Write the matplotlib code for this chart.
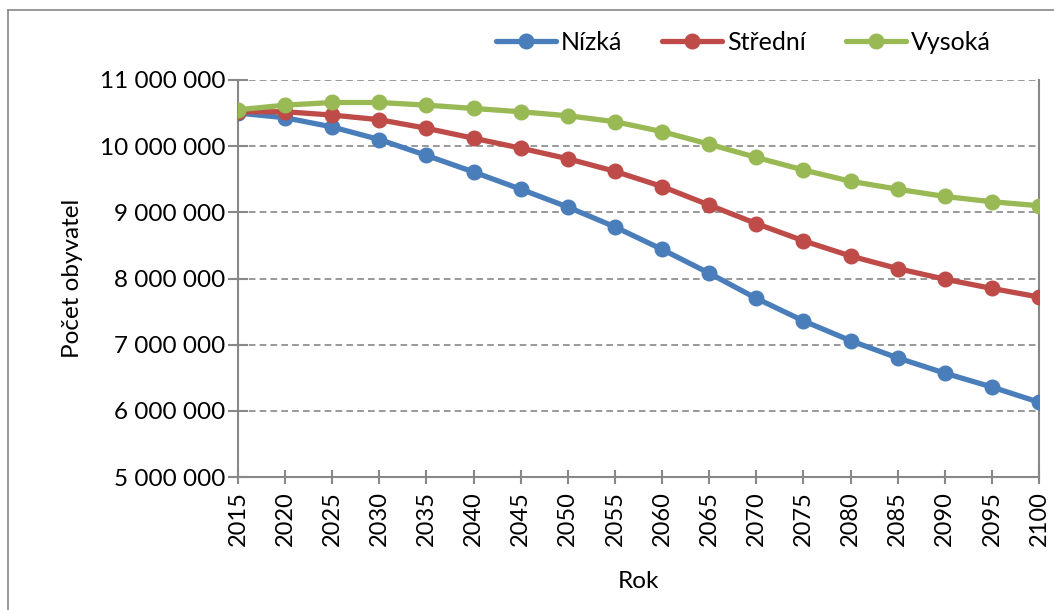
import matplotlib
matplotlib.use('Agg')
import matplotlib.pyplot as plt
from matplotlib.ticker import FuncFormatter
from matplotlib.lines import Line2D

plt.rcParams['font.family'] = ['Lato', 'DejaVu Sans']

# data (millions of inhabitants)
roky = [2015, 2020, 2025, 2030, 2035, 2040, 2045, 2050, 2055, 2060,
        2065, 2070, 2075, 2080, 2085, 2090, 2095, 2100]
nizka = [10.50, 10.43, 10.29, 10.10, 9.86, 9.61, 9.35, 9.08, 8.78, 8.44,
         8.08, 7.70, 7.36, 7.06, 6.80, 6.57, 6.36, 6.13]
stredni = [10.52, 10.52, 10.47, 10.40, 10.27, 10.12, 9.97, 9.81, 9.62, 9.39,
           9.11, 8.83, 8.57, 8.34, 8.15, 7.99, 7.85, 7.72]
vysoka = [10.55, 10.62, 10.66, 10.66, 10.62, 10.57, 10.52, 10.46, 10.37, 10.22,
          10.03, 9.83, 9.64, 9.47, 9.35, 9.24, 9.16, 9.10]
nazvy = ['Nízká', 'Střední', 'Vysoká']
barvy = ['#4A7EBB', '#BE4B48', '#98B954']

fig = plt.figure(figsize=(10.54, 6.10), dpi=100)
ax = fig.add_axes([238 / 1054, 1 - 477 / 610, (1039 - 238) / 1054, (477 - 80) / 610])

# outer chart frame (top + left visible)
fig.add_artist(Line2D([8 / 1054, 8 / 1054], [0, 1 - 10 / 610], color='#888888', lw=1.2))
fig.add_artist(Line2D([8 / 1054, 1], [1 - 10 / 610, 1 - 10 / 610], color='#888888', lw=1.2))

for serie, nazev, barva in zip([nizka, stredni, vysoka], nazvy, barvy):
    ax.plot(roky, [v * 1e6 for v in serie], color=barva, lw=3.8, marker='o',
            markersize=10.5, label=nazev, solid_capstyle='round', zorder=3)

ax.set_xlim(2015, 2100)
ax.set_ylim(5e6, 11e6)
ax.set_xticks(roky)
ax.set_xticklabels([str(r) for r in roky], rotation=90, fontsize=17)
ax.set_yticks([5e6, 6e6, 7e6, 8e6, 9e6, 10e6, 11e6])
ax.yaxis.set_major_formatter(FuncFormatter(lambda v, p: f'{int(v):,}'.replace(',', ' ')))
ax.tick_params(axis='y', labelsize=17.5, length=14, direction='inout', color='#888888', width=1.5, pad=2)
ax.tick_params(axis='x', length=10, direction='inout', color='#888888', width=1.5, pad=5)

ax.grid(axis='y', color='#888888', linestyle=(0, (4, 2.5)), lw=1.2, zorder=1)
ax.set_axisbelow(True)
for s in ['left', 'bottom', 'right']:
    ax.spines[s].set_color('#888888')
    ax.spines[s].set_linewidth(1.5)
ax.spines['top'].set_visible(False)

ax.set_ylabel('Počet obyvatel', fontsize=17.5, labelpad=12)
ax.set_xlabel('Rok', fontsize=17.5, labelpad=18)

ax.legend(loc='lower left', bbox_to_anchor=(486 / 1054, 1 - 64 / 610), bbox_transform=fig.transFigure,
          ncol=3, frameon=False, fontsize=18, handlelength=2.4, columnspacing=1.6,
          handletextpad=0.2, borderaxespad=0)

plt.savefig('out.png', dpi=100)
